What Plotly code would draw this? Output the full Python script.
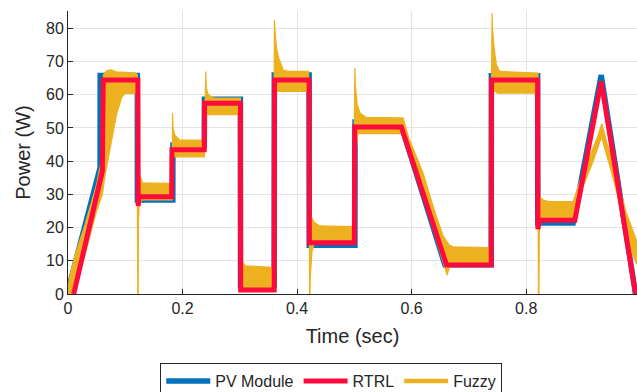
import plotly.graph_objects as go

# ---- data ----
pv_t = [0, 0.056, 0.0562, 0.121, 0.1212, 0.183, 0.1832, 0.238, 0.2382, 0.301, 0.3012,
        0.360, 0.3602, 0.421, 0.4212, 0.501, 0.5012, 0.580, 0.658, 0.739, 0.7392,
        0.820, 0.8202, 0.882, 0.931, 0.991]
pv_p = [1, 38, 65.8, 65.8, 28.3, 28.3, 44.8, 44.8, 58.6, 58.6, 2.7,
        2.7, 65.9, 65.9, 14.7, 14.7, 51.8, 51.8, 8.8, 8.8, 65.7,
        65.7, 21.4, 21.4, 65.9, 0]

rtrl_t = [0.01, 0.060, 0.0615, 0.122, 0.1225, 0.124, 0.181, 0.1815, 0.238, 0.2385,
          0.301, 0.3015, 0.360, 0.3605, 0.421, 0.4215, 0.500, 0.5005, 0.582, 0.661,
          0.739, 0.7395, 0.820, 0.8205, 0.823, 0.885, 0.931, 0.991]
rtrl_p = [0, 37, 64.4, 64.4, 26.5, 29.3, 29.3, 43.4, 43.4, 57.4,
          57.4, 1.2, 1.2, 64.4, 64.4, 15.4, 15.4, 50.3, 50.3, 8.7,
          8.7, 64.4, 64.4, 19.5, 22.2, 22.2, 64, 0]

fuzzy_up_t = [0.0, 0.004, 0.012, 0.03, 0.05, 0.058, 0.0605, 0.062, 0.068, 0.075, 0.085,
              0.095, 0.118, 0.121, 0.1215, 0.125, 0.13, 0.182, 0.1825, 0.1835, 0.186,
              0.195, 0.238, 0.2405, 0.2415, 0.245, 0.255, 0.301, 0.302, 0.31, 0.358,
              0.3605, 0.3612, 0.364, 0.368, 0.376, 0.385, 0.42, 0.4215, 0.43, 0.44,
              0.498, 0.501, 0.5017, 0.505, 0.51, 0.52, 0.585, 0.595, 0.62, 0.64,
              0.655, 0.665, 0.672, 0.737, 0.7405, 0.7412, 0.744, 0.748, 0.754, 0.80,
              0.8205, 0.821, 0.83, 0.84, 0.882, 0.894, 0.917, 0.925, 0.932, 0.94,
              0.95, 0.96, 0.975, 0.993]
fuzzy_up_p = [2, 6, 11.5, 21, 33, 40, 60, 66, 67.3, 67.5, 66.8,
              66.8, 66.5, 66, 38.5, 36, 33.5, 33.3, 54.5, 50, 48,
              46.3, 46.3, 67, 62, 60, 59, 59, 10.2, 8.5, 8,
              82.5, 80, 74, 71, 67.4, 67, 67, 24.5, 21.5, 20.5,
              20.3, 68, 63, 57, 54.5, 53.2, 53, 47, 36.4, 25,
              17.5, 14.8, 14.2, 14, 84.5, 80, 74, 69, 67, 66.6,
              66.5, 29.5, 28.3, 27.8, 27.8, 34, 44, 47.5, 51.3, 46,
              40.5, 34, 24.3, 16]

fuzzy_lo_t = [0.0, 0.01, 0.03, 0.05, 0.06, 0.065, 0.073, 0.085, 0.094, 0.1, 0.119,
              0.121, 0.1218, 0.1225, 0.123, 0.1245, 0.13, 0.182, 0.183, 0.238, 0.241,
              0.301, 0.302, 0.36, 0.362, 0.421, 0.4218, 0.4225, 0.423, 0.426, 0.43,
              0.50, 0.5015, 0.503, 0.506, 0.583, 0.62, 0.655, 0.662, 0.666, 0.67,
              0.737, 0.741, 0.75, 0.82, 0.8215, 0.8222, 0.823, 0.826, 0.882, 0.894,
              0.917, 0.93, 0.932, 0.94, 0.95, 0.96, 0.975, 0.993]
fuzzy_lo_p = [0, 0, 12, 25, 30, 36, 43.3, 54.3, 59.3, 60.4, 60.4,
              30, 0, 0, 22, 27.5, 28.3, 28.3, 41.3, 41.3, 54,
              54, 1.5, 1.5, 61, 61, 0, 0, 5, 13, 15,
              15, 40, 42, 48.3, 48.3, 29.5, 9.5, 5.7, 8, 9,
              9, 61.5, 60.5, 60.5, 0, 0, 19, 22, 22, 30,
              40, 46.5, 47, 42, 36, 29.5, 16, 9]

x_ticks = [0, 0.2, 0.4, 0.6, 0.8]
x_tick_labels = ["0", "0.2", "0.4", "0.6", "0.8"]
y_ticks = [0, 10, 20, 30, 40, 50, 60, 70, 80]

BLUE = "#0072BD"
RED = "#FF0A3C"
YELLOW = "#EDB120"
TXT = "#262626"
FONT = "Liberation Sans, Arial, sans-serif"

fig = go.Figure()

fig.add_trace(go.Scatter(x=pv_t, y=pv_p, mode="lines", name="PV Module",
                         line=dict(color=BLUE, width=5.5), legendrank=1))
fig.add_trace(go.Scatter(x=fuzzy_up_t + fuzzy_lo_t[::-1], y=fuzzy_up_p + fuzzy_lo_p[::-1],
                         mode="lines", fill="toself", fillcolor=YELLOW,
                         line=dict(color=YELLOW, width=1.2), showlegend=False,
                         hoverinfo="skip"))
fig.add_trace(go.Scatter(x=rtrl_t, y=rtrl_p, mode="lines", name="RTRL",
                         line=dict(color=RED, width=5), legendrank=2))
fig.add_trace(go.Scatter(x=[None], y=[None], mode="lines", name="Fuzzy",
                         line=dict(color=YELLOW, width=4.5), legendrank=3))

axis_common = dict(showgrid=True, gridcolor="#e3e3e3", gridwidth=1,
                   showline=True, linecolor=TXT, linewidth=1,
                   ticks="inside", ticklen=5, tickcolor=TXT,
                   tickfont=dict(family=FONT, size=16, color=TXT),
                   zeroline=False, mirror=False)

fig.update_xaxes(range=[0, 0.9935], tickvals=x_ticks, ticktext=x_tick_labels,
                 title=dict(text="Time (sec)", font=dict(family=FONT, size=20, color=TXT),
                            standoff=12),
                 **axis_common)
fig.update_yaxes(range=[0, 85.2], tickvals=y_ticks,
                 title=dict(text="Power (W)", font=dict(family=FONT, size=20, color=TXT),
                            standoff=10),
                 **axis_common)

fig.update_layout(
    width=637, height=392,
    margin=dict(l=68, r=0, t=11, b=98),
    plot_bgcolor="white", paper_bgcolor="white",
    font=dict(family=FONT, color=TXT),
    legend=dict(orientation="h", xref="container", yref="container",
                x=0.52, xanchor="center", y=1 - 363 / 392, yanchor="top",
                bordercolor=TXT, borderwidth=1, bgcolor="white",
                font=dict(family=FONT, size=16, color=TXT),
                itemwidth=44, tracegroupgap=0),
)

fig.write_html("out.html")
